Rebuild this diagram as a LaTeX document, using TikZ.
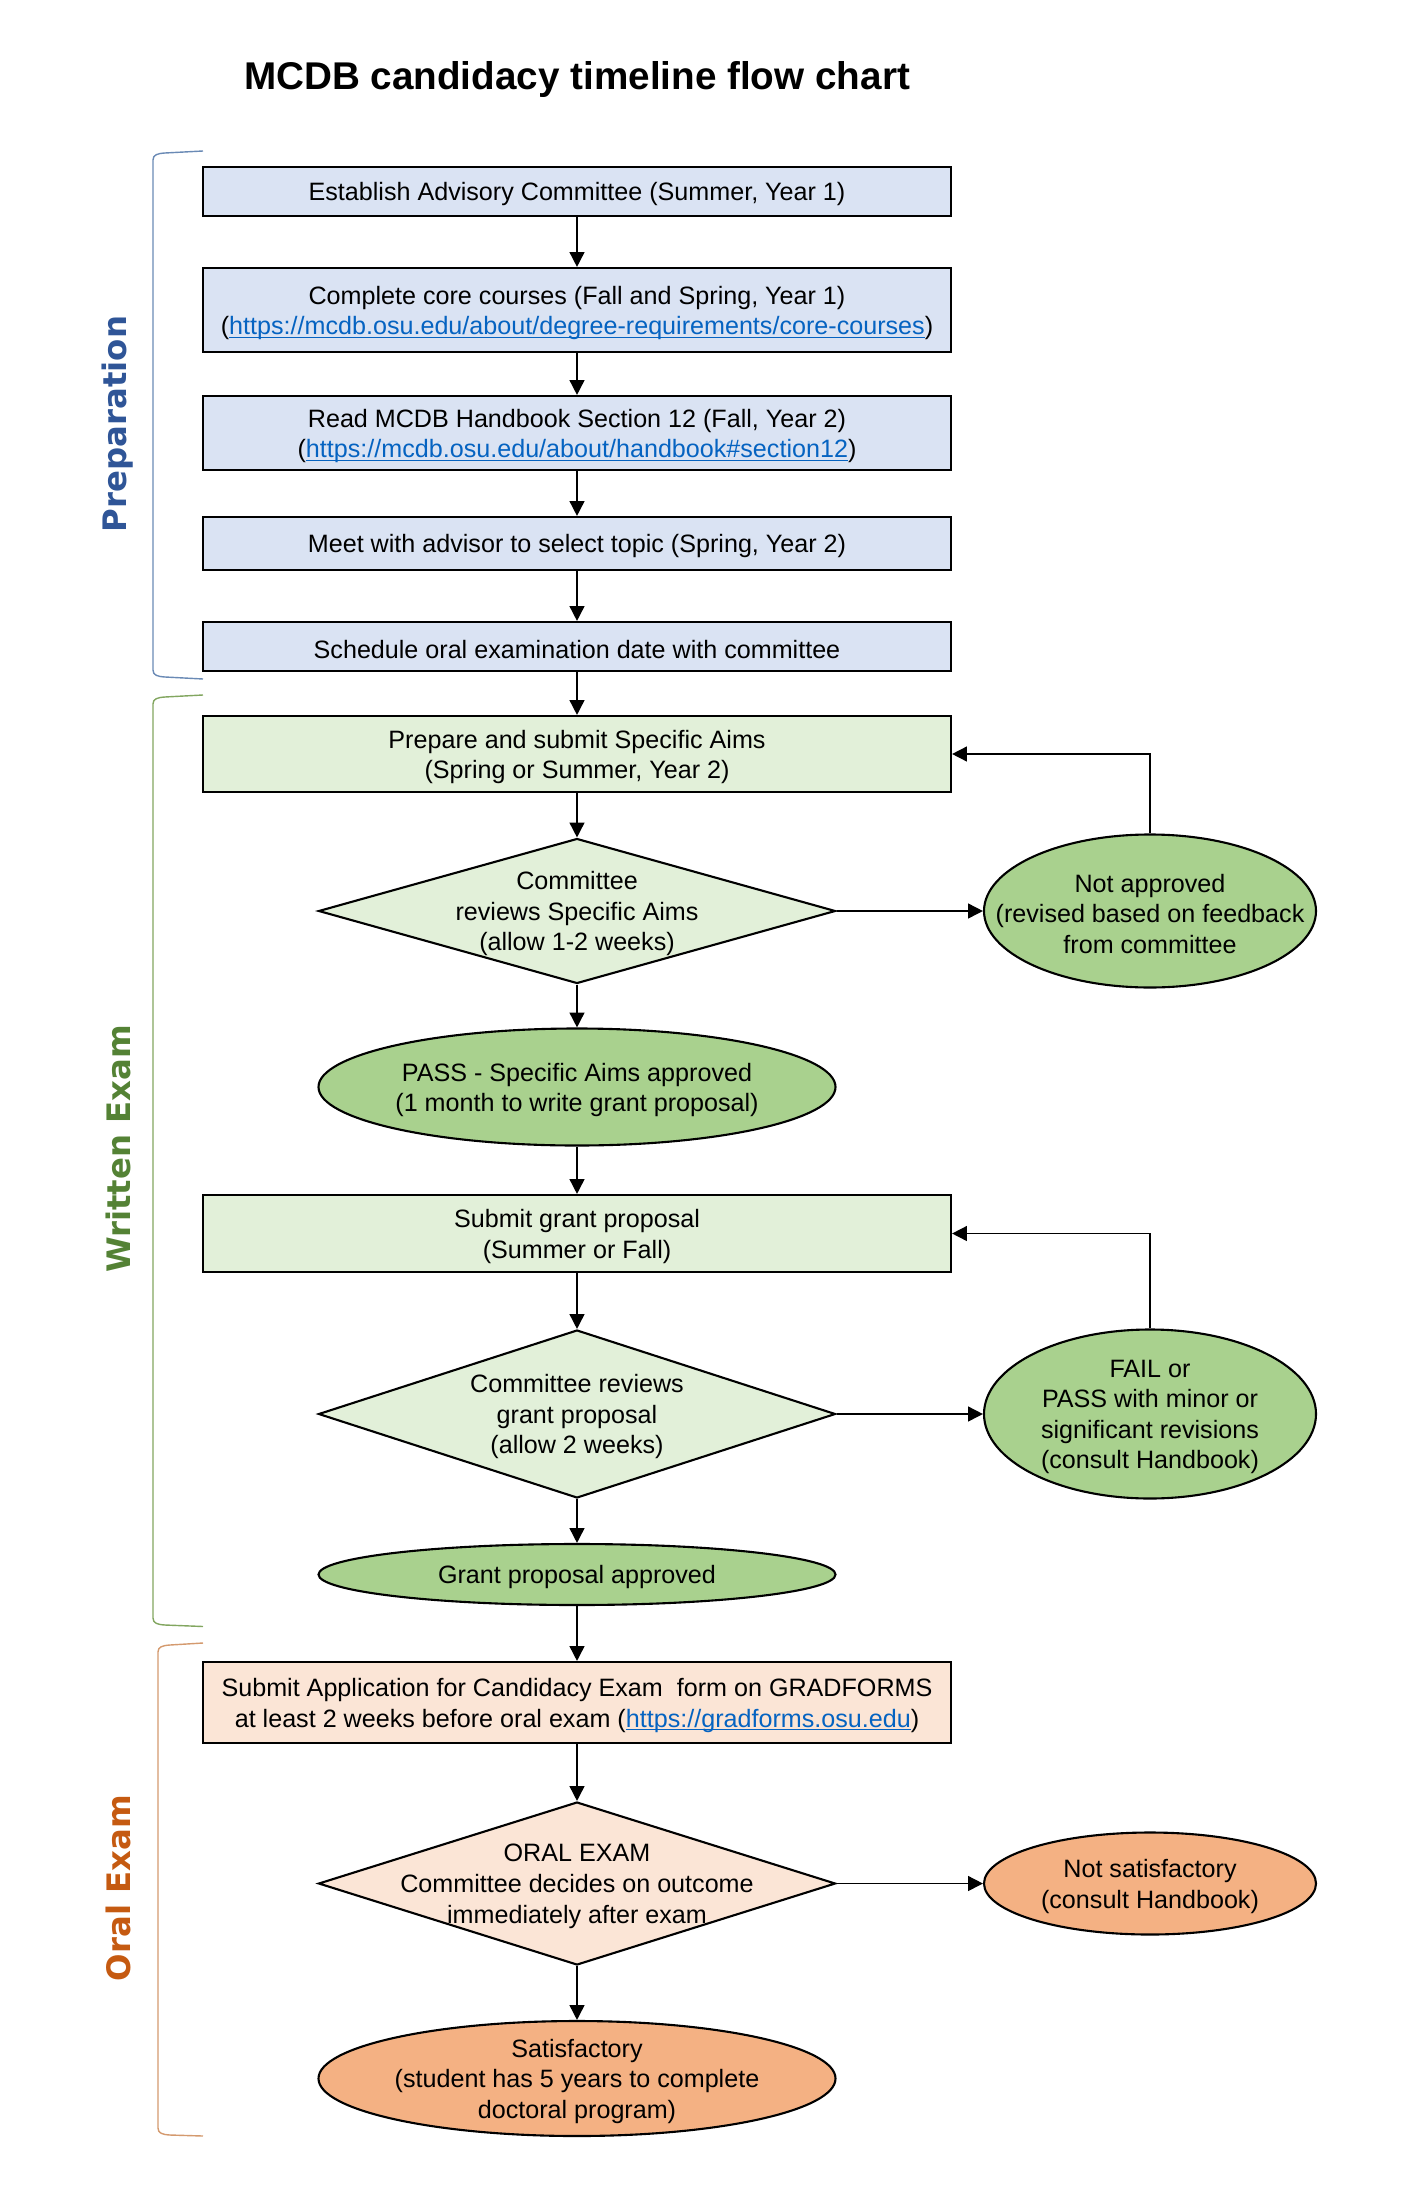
\documentclass[tikz,border=0pt]{standalone}
\usepackage{fontspec}
\setmainfont{Liberation Sans}
\newfontfamily\labelfont{DejaVu Sans}
\usetikzlibrary{shapes.geometric,arrows.meta}
\definecolor{cBlue}{HTML}{DAE3F3}
\definecolor{cGreen}{HTML}{E2F0D9}
\definecolor{cGreenEll}{HTML}{A9D18E}
\definecolor{cPeach}{HTML}{FBE5D6}
\definecolor{cOrangeEll}{HTML}{F4B183}
\definecolor{cPrepTxt}{HTML}{2F5597}
\definecolor{cWrTxt}{HTML}{548235}
\definecolor{cOrTxt}{HTML}{C55A11}
\definecolor{cPrepBr}{HTML}{6A8AB5}
\definecolor{cWrBr}{HTML}{82A660}
\definecolor{cOrBr}{HTML}{D49A6E}
\definecolor{cLink}{HTML}{0563C1}
\newsavebox\lnkbox
\newcommand\lnk[1]{\sbox\lnkbox{\color{cLink}#1}{\color{cLink}\rlap{\rule[-0.95pt]{\wd\lnkbox}{0.4pt}}}\usebox\lnkbox}
\begin{document}
\begin{tikzpicture}[
  every node/.style={font=\fontsize{7.15}{8.7}\selectfont},
  box/.style={draw, line width=0.6pt, minimum width=7.48cm, inner sep=0pt},
  diam/.style={diamond, draw, line width=0.6pt, minimum width=5.17cm, inner sep=0pt},
  ell/.style={ellipse, draw, line width=0.6pt, inner sep=0pt},
  txt/.style={align=center, inner sep=0pt, yshift=-0.8pt},
  arr/.style={-{Triangle[length=4.2pt,width=4.2pt]}, line width=0.45pt},
  sidelabel/.style={rotate=90, font=\labelfont\bfseries\fontsize{9.2}{11}\selectfont},
  brace/.style={line width=0.4pt}
]
\useasboundingbox (0,0) rectangle (14,-22);

% title
\node[font=\bfseries\fontsize{11}{13}\selectfont] (title) at (5.77,-0.80) {MCDB candidacy timeline flow chart};

% Preparation
\node[box, fill=cBlue, minimum height=0.49cm] (b1) at (5.77,-1.915) {};
\node[txt] (b1t) at (b1) {Establish Advisory Committee (Summer, Year 1)};
\node[box, fill=cBlue, minimum height=0.84cm] (b2) at (5.77,-3.10) {};
\node[txt] (b2t) at (b2) {Complete core courses (Fall and Spring, Year 1)\\(\lnk{https://mcdb.osu.edu/about/degree-requirements/core-courses})};
\node[box, fill=cBlue, minimum height=0.74cm] (b3) at (5.77,-4.33) {};
\node[txt] (b3t) at (b3) {Read MCDB Handbook Section 12 (Fall, Year 2)\\(\lnk{https://mcdb.osu.edu/about/handbook\#section12})};
\node[box, fill=cBlue, minimum height=0.53cm] (b4) at (5.77,-5.435) {};
\node[txt] (b4t) at (b4) {Meet with advisor to select topic (Spring, Year 2)};
\node[box, fill=cBlue, minimum height=0.49cm] (b5) at (5.77,-6.465) {};
\node[txt] (b5t) at (b5) {Schedule oral examination date with committee};

% Written exam
\node[box, fill=cGreen, minimum height=0.76cm] (b6) at (5.77,-7.54) {};
\node[txt] (b6t) at (b6) {Prepare and submit Specific Aims\\(Spring or Summer, Year 2)};
\node[diam, fill=cGreen, minimum height=1.45cm] (d1) at (5.77,-9.11) {};
\node[txt] (d1t) at (d1) {Committee\\reviews Specific Aims\\(allow 1-2 weeks)};
\node[ell, fill=cGreenEll, minimum width=3.32cm, minimum height=1.53cm] (na) at (11.50,-9.11) {};
\node[txt] (nat) at (na) {Not approved\\(revised based on feedback\\from committee};
\node[ell, fill=cGreenEll, minimum width=5.17cm, minimum height=1.17cm] (pass) at (5.77,-10.87) {};
\node[txt] (passt) at (pass) {PASS - Specific Aims approved\\(1 month to write grant proposal)};
\node[box, fill=cGreen, minimum height=0.77cm] (b7) at (5.77,-12.335) {};
\node[txt] (b7t) at (b7) {Submit grant proposal\\(Summer or Fall)};
\node[diam, fill=cGreen, minimum height=1.68cm] (d2) at (5.77,-14.14) {};
\node[txt] (d2t) at (d2) {Committee reviews\\grant proposal\\(allow 2 weeks)};
\node[ell, fill=cGreenEll, minimum width=3.32cm, minimum height=1.69cm] (fail) at (11.50,-14.14) {};
\node[txt] (failt) at (fail) {FAIL or\\PASS with minor or\\significant revisions\\(consult Handbook)};
\node[ell, fill=cGreenEll, minimum width=5.17cm, minimum height=0.61cm] (ga) at (5.77,-15.745) {};
\node[txt] (gat) at (ga) {Grant proposal approved};

% Oral exam
\node[box, fill=cPeach, minimum height=0.81cm] (b8) at (5.77,-17.025) {};
\node[txt] (b8t) at (b8) {Submit Application for Candidacy Exam\ \ form on GRADFORMS\\at least 2 weeks before oral exam (\lnk{https://gradforms.osu.edu})};
\node[diam, fill=cPeach, minimum height=1.63cm] (d3) at (5.77,-18.835) {};
\node[txt] (d3t) at (d3) {ORAL EXAM\\Committee decides on outcome\\immediately after exam};
\node[ell, fill=cOrangeEll, minimum width=3.32cm, minimum height=1.02cm] (ns) at (11.50,-18.835) {};
\node[txt] (nst) at (ns) {Not satisfactory\\(consult Handbook)};
\node[ell, fill=cOrangeEll, minimum width=5.17cm, minimum height=1.15cm] (sat) at (5.77,-20.785) {};
\node[txt] (satt) at (sat) {Satisfactory\\(student has 5 years to complete\\doctoral program)};

% connectors
\draw[arr] (b1.south) -- (b2.north);
\draw[arr] (b2.south) -- (b3.north);
\draw[arr] (b3.south) -- (b4.north);
\draw[arr] (b4.south) -- (b5.north);
\draw[arr] (b5.south) -- (b6.north);
\draw[arr] (b6.south) -- (d1.north);
\draw[arr] (d1.east) -- (na.west);
\draw[arr] (na.north) |- (b6.east);
\draw[arr] (d1.south) -- (pass.north);
\draw[arr] (pass.south) -- (b7.north);
\draw[arr] (b7.south) -- (d2.north);
\draw[arr] (d2.east) -- (fail.west);
\draw[arr] (fail.north) |- (b7.east);
\draw[arr] (d2.south) -- (ga.north);
\draw[arr] (ga.south) -- (b8.north);
\draw[arr] (b8.south) -- (d3.north);
\draw[arr] (d3.east) -- (ns.west);
\draw[arr] (d3.south) -- (sat.north);

% braces
\draw[brace, cPrepBr] (2.03,-1.51) -- (1.65,-1.53) .. controls (1.57,-1.535) and (1.53,-1.55) .. (1.53,-1.60) -- (1.53,-6.70) .. controls (1.53,-6.75) and (1.57,-6.765) .. (1.65,-6.77) -- (2.03,-6.79);
\draw[brace, cWrBr] (2.03,-6.95) -- (1.65,-6.97) .. controls (1.57,-6.975) and (1.53,-6.99) .. (1.53,-7.04) -- (1.53,-16.18) .. controls (1.53,-16.23) and (1.57,-16.245) .. (1.65,-16.25) -- (2.03,-16.265);
\draw[brace, cOrBr] (2.03,-16.43) -- (1.70,-16.45) .. controls (1.62,-16.455) and (1.58,-16.47) .. (1.58,-16.52) -- (1.58,-21.28) .. controls (1.58,-21.33) and (1.62,-21.345) .. (1.70,-21.35) -- (2.03,-21.36);

% side labels
\node[sidelabel, text=cPrepTxt] (lprep) at (1.18,-4.24) {Preparation};
\node[sidelabel, text=cWrTxt] (lwr) at (1.18,-11.49) {Written Exam};
\node[sidelabel, text=cOrTxt] (lor) at (1.18,-18.88) {Oral Exam};
\end{tikzpicture}
\end{document}
